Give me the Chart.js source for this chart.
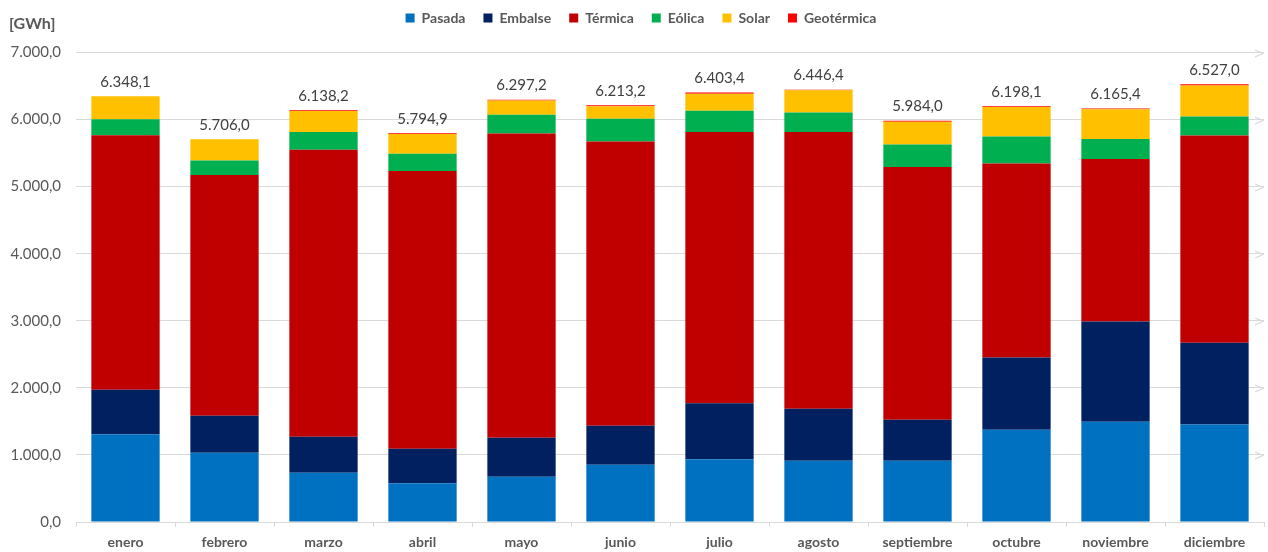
<!DOCTYPE html>
<html lang="es">
<head>
<meta charset="utf-8">
<title>Generación mensual por tecnología</title>
<script src="https://cdn.jsdelivr.net/npm/chart.js@4.4.0/dist/chart.umd.min.js"></script>
<style>
    html, body { margin: 0; padding: 0; background: #ffffff; }
    #caja { position: relative; width: 1268px; height: 552px; }
    #unidad {
        position: absolute; left: 9px; top: 13px;
        font: bold 16px Lato, sans-serif; color: #595959;
    }
</style>
</head>
<body>
<div id="caja">
    <canvas id="generacion" width="1268" height="552"></canvas>
    <div id="unidad">[GWh]</div>
</div>
<script>
// Generación mensual [GWh] por tecnología
const meses = ['enero', 'febrero', 'marzo', 'abril', 'mayo', 'junio', 'julio', 'agosto', 'septiembre', 'octubre', 'noviembre', 'diciembre'];

const pasada     = [1310, 1033, 735, 576, 676, 855, 934, 914, 914, 1376, 1495, 1455];
const embalse    = [661, 551, 537, 517, 581, 580, 838, 775, 611, 1076, 1493, 1216];
const termica    = [3797, 3589, 4278, 4139, 4535, 4238, 4041, 4124, 3767, 2894, 2423, 3091];
const eolica     = [238, 217, 263, 258, 279, 338, 317, 292, 336, 402, 298, 283];
const solar      = [342.1, 316.0, 315.2, 294.9, 214.2, 187.2, 253.4, 333.4, 341.0, 440.1, 446.4, 464.0];
const geotermica = [0, 0, 10, 10, 12, 15, 20, 8, 15, 10, 10, 18];

const ejeY = [0, 1000, 2000, 3000, 4000, 5000, 6000, 7000];

// formato 6.348,1
function formatoNumero(v) {
    const partes = v.toFixed(1).split('.');
    return partes[0].replace(/\B(?=(\d{3})+(?!\d))/g, '.') + ',' + partes[1];
}

const fuente = 'Lato, "Open Sans", sans-serif';
const gris = '#595959';
const lineaGrid = '#d9d9d9';

// totales encima de cada columna
const etiquetasTotales = {
    id: 'etiquetasTotales',
    afterDatasetsDraw(chart) {
        const ctx = chart.ctx;
        const sets = chart.data.datasets;
        const ultimo = chart.getDatasetMeta(sets.length - 1);
        ctx.save();
        ctx.font = '15px ' + fuente;
        ctx.fillStyle = '#404040';
        ctx.textAlign = 'center';
        ctx.textBaseline = 'middle';
        ultimo.data.forEach((barra, i) => {
            const total = sets.reduce((s, d) => s + d.data[i], 0);
            ctx.fillText(formatoNumero(total), barra.x, barra.y - 14);
        });
        ctx.restore();
    }
};

// puntas de flecha al final de las líneas de la grilla
const flechasGrid = {
    id: 'flechasGrid',
    afterDraw(chart) {
        const ctx = chart.ctx;
        const y = chart.scales.y;
        const der = chart.chartArea.right - 1;
        ctx.save();
        ctx.strokeStyle = lineaGrid;
        ctx.lineWidth = 1.2;
        y.ticks.forEach(t => {
            if (t.value === 0) return;
            const py = Math.round(y.getPixelForValue(t.value)) + 0.5;
            ctx.beginPath();
            ctx.moveTo(der - 8, py - 3.5);
            ctx.lineTo(der, py);
            ctx.lineTo(der - 8, py + 3.5);
            ctx.stroke();
        });
        ctx.restore();
    }
};

// leyenda: más aire debajo y un poco corrida a la derecha
const ajusteLeyenda = {
    id: 'ajusteLeyenda',
    afterInit(chart) {
        const leyenda = chart.legend;
        if (!leyenda) return;
        const fitOriginal = leyenda.fit;
        const drawOriginal = leyenda.draw;
        leyenda.fit = function () {
            fitOriginal.call(this);
            this.height += 17.5;
        };
        leyenda.draw = function () {
            const c = this.ctx;
            c.save();
            c.translate(9, 0);
            drawOriginal.call(this);
            c.restore();
        };
    }
};

function serie(nombre, datos, color) {
    return {
        label: nombre,
        data: datos,
        backgroundColor: color,
        borderWidth: 0,
        barPercentage: 0.69,
        categoryPercentage: 1.0
    };
}

const ctx = document.getElementById('generacion').getContext('2d');
const grafico = new Chart(ctx, {
    type: 'bar',
    data: {
        labels: meses,
        datasets: [
            serie('Pasada', pasada, '#0070c0'),
            serie('Embalse', embalse, '#002060'),
            serie('Térmica', termica, '#c00000'),
            serie('Eólica', eolica, '#00b050'),
            serie('Solar', solar, '#ffc000'),
            serie('Geotérmica', geotermica, '#ff0000')
        ]
    },
    options: {
        responsive: false,
        animation: false,
        layout: { padding: { left: 0, right: 4, top: -7, bottom: 0 } },
        plugins: {
            tooltip: { enabled: false },
            legend: {
                position: 'top',
                labels: {
                    boxWidth: 9,
                    boxHeight: 9,
                    padding: 18,
                    color: gris,
                    font: { family: fuente, size: 14, weight: 'bold' }
                }
            }
        },
        scales: {
            x: {
                stacked: true,
                grid: { drawOnChartArea: false, drawTicks: true, tickLength: 5, color: lineaGrid, offset: true },
                border: { color: lineaGrid, width: 1 },
                ticks: { color: gris, padding: 7, font: { family: fuente, size: 14, weight: 'bold' } },
                afterFit: s => { s.height = 30; }
            },
            y: {
                stacked: true,
                min: ejeY[0],
                max: ejeY[ejeY.length - 1],
                grid: { color: lineaGrid, drawTicks: false },
                border: { display: false },
                ticks: {
                    stepSize: 1000,
                    padding: 15,
                    color: gris,
                    font: { family: fuente, size: 15 },
                    callback: v => formatoNumero(v)
                },
                afterFit: s => { s.width = 76; }
            }
        }
    },
    plugins: [etiquetasTotales, flechasGrid, ajusteLeyenda]
});
</script>
</body>
</html>
